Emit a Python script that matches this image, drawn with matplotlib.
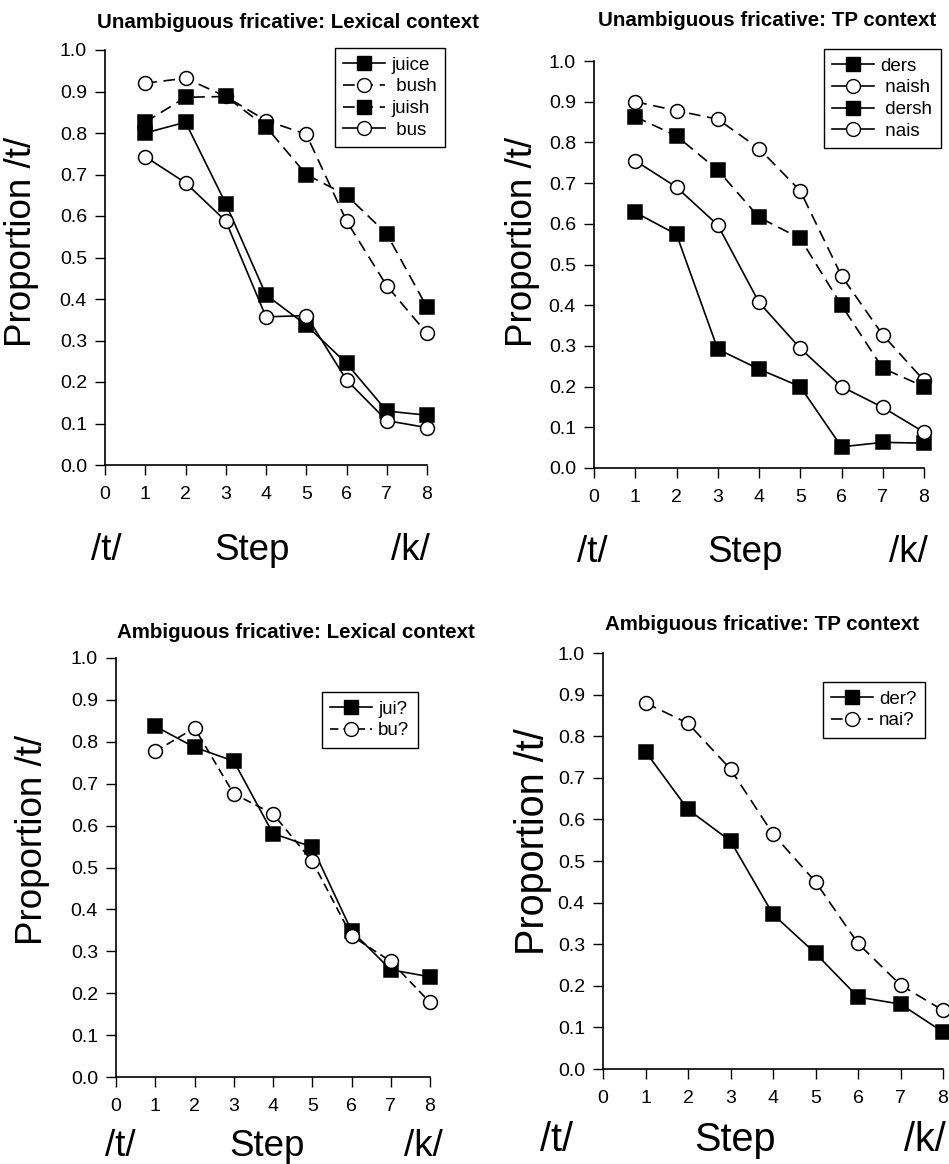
import matplotlib
matplotlib.use("Agg")
import matplotlib.pyplot as plt
from matplotlib.lines import Line2D

plt.rcParams['font.family'] = ['Liberation Sans', 'DejaVu Sans']

steps = [1, 2, 3, 4, 5, 6, 7, 8]
xticks = [0, 1, 2, 3, 4, 5, 6, 7, 8]
yticks = [0.0, 0.1, 0.2, 0.3, 0.4, 0.5, 0.6, 0.7, 0.8, 0.9, 1.0]

# Unambiguous fricative: lexical context
juice = [0.80, 0.826, 0.63, 0.41, 0.337, 0.245, 0.13, 0.12]
bush = [0.92, 0.932, 0.888, 0.83, 0.797, 0.588, 0.432, 0.317]
juish = [0.826, 0.886, 0.888, 0.815, 0.70, 0.65, 0.557, 0.38]
bus = [0.743, 0.68, 0.588, 0.357, 0.36, 0.205, 0.107, 0.09]

# Unambiguous fricative: TP context
ders = [0.628, 0.574, 0.292, 0.243, 0.20, 0.052, 0.063, 0.061]
naish = [0.90, 0.878, 0.857, 0.785, 0.681, 0.472, 0.327, 0.215]
dersh = [0.863, 0.816, 0.732, 0.616, 0.564, 0.40, 0.245, 0.20]
nais = [0.755, 0.69, 0.597, 0.407, 0.294, 0.20, 0.149, 0.088]

# Ambiguous fricative: lexical context
jui_amb = [0.837, 0.787, 0.754, 0.581, 0.549, 0.349, 0.256, 0.239]
bu_amb = [0.777, 0.833, 0.676, 0.628, 0.515, 0.337, 0.276, 0.178]

# Ambiguous fricative: TP context
der_amb = [0.763, 0.624, 0.548, 0.372, 0.278, 0.173, 0.156, 0.089]
nai_amb = [0.88, 0.831, 0.721, 0.565, 0.45, 0.302, 0.202, 0.141]

W, H = 949, 1164
fig = plt.figure(figsize=(W / 100, H / 100), dpi=100)

def px(x, y):
    return x / W, 1 - y / H

DASH = (0, (7, 4))
SOLID = '-'

def make_axes(l, t, r, b):
    x0, y1 = px(l, t)
    x1, y0 = px(r, b)
    ax = fig.add_axes([x0, y0, x1 - x0, y1 - y0])
    ax.set_xlim(0, 8)
    ax.set_ylim(0, 1.0)
    ax.set_xticks(xticks)
    ax.set_yticks(yticks)
    ax.set_yticklabels(['%.1f' % v for v in yticks])
    for s in ['top', 'right']:
        ax.spines[s].set_visible(False)
    for s in ['left', 'bottom']:
        ax.spines[s].set_linewidth(1.2)
    ax.tick_params(direction='out', length=7, width=1, labelsize=14)
    ax.tick_params(axis='x', pad=8)
    ax.tick_params(axis='y', pad=6)
    return ax

def series(ax, y, filled, ls):
    ax.plot(steps, y, color='black', lw=1.2, linestyle=ls,
            marker='s' if filled else 'o', markersize=10,
            markerfacecolor='black' if filled else 'white',
            markeredgecolor='black', markeredgewidth=1.1, clip_on=False)

def legend(ax, names, specs, lx, ty):
    handles = [Line2D([], [], color='black', lw=1.2, linestyle=ls,
                      marker='s' if f else 'o', markersize=10,
                      markerfacecolor='black' if f else 'white',
                      markeredgecolor='black')
               for f, ls in specs]
    leg = ax.legend(handles, names, loc='upper left',
                    bbox_to_anchor=px(lx, ty), bbox_transform=fig.transFigure,
                    fancybox=False, framealpha=1, edgecolor='black',
                    fontsize=13.5, handlelength=2.2, handletextpad=0.35,
                    labelspacing=0.25, borderpad=0.45, borderaxespad=0)
    leg.get_frame().set_linewidth(1.0)

def labels(title, tx, ty, ylx, yly, tpos, spos, kpos, by, big):
    fig.text(*px(tx, ty), title, ha='center', va='center',
             fontsize=14.8, fontweight='bold')
    fig.text(*px(ylx, yly), 'Proportion /t/', rotation=90,
             ha='center', va='center', fontsize=big)
    fig.text(*px(tpos, by), '/t/', ha='center', va='center', fontsize=big)
    fig.text(*px(spos, by), 'Step', ha='center', va='center', fontsize=big)
    fig.text(*px(kpos, by), '/k/', ha='center', va='center', fontsize=big)

# top-left
ax1 = make_axes(105, 50, 427, 465)
series(ax1, juice, True, SOLID)
series(ax1, bush, False, DASH)
series(ax1, juish, True, DASH)
series(ax1, bus, False, SOLID)
legend(ax1, ['juice', ' bush', 'juish', ' bus'],
       [(True, SOLID), (False, DASH), (True, DASH), (False, SOLID)], 335, 48)
labels('Unambiguous fricative: Lexical context', 288, 22, 22, 242,
       106, 252, 410, 551, 26.5)

# top-right
ax2 = make_axes(594, 61, 924, 468)
series(ax2, ders, True, SOLID)
series(ax2, naish, False, DASH)
series(ax2, dersh, True, DASH)
series(ax2, nais, False, SOLID)
legend(ax2, ['ders', ' naish', ' dersh', ' nais'],
       [(True, SOLID), (False, SOLID), (True, SOLID), (False, SOLID)], 824, 49)
labels('Unambiguous fricative: TP context', 767, 20, 523, 242,
       592, 745, 908, 553, 26.5)

# bottom-left
ax3 = make_axes(116, 658, 430, 1077)
series(ax3, jui_amb, True, SOLID)
series(ax3, bu_amb, False, (0, (5, 3)))
legend(ax3, ['jui?', 'bu?'], [(True, SOLID), (False, (0, (5, 3)))], 322, 692)
labels('Ambiguous fricative: Lexical context', 296, 633, 33, 840,
       120, 267, 423, 1147, 26.5)

# bottom-right
ax4 = make_axes(603, 653, 943, 1069)
series(ax4, der_amb, True, SOLID)
series(ax4, nai_amb, False, DASH)
legend(ax4, ['der?', 'nai?'], [(True, SOLID), (False, DASH)], 823, 682)
labels('Ambiguous fricative: TP context', 762, 625, 533, 842,
       557, 735, 925, 1140, 28.5)

fig.savefig('out.png', dpi=100)
